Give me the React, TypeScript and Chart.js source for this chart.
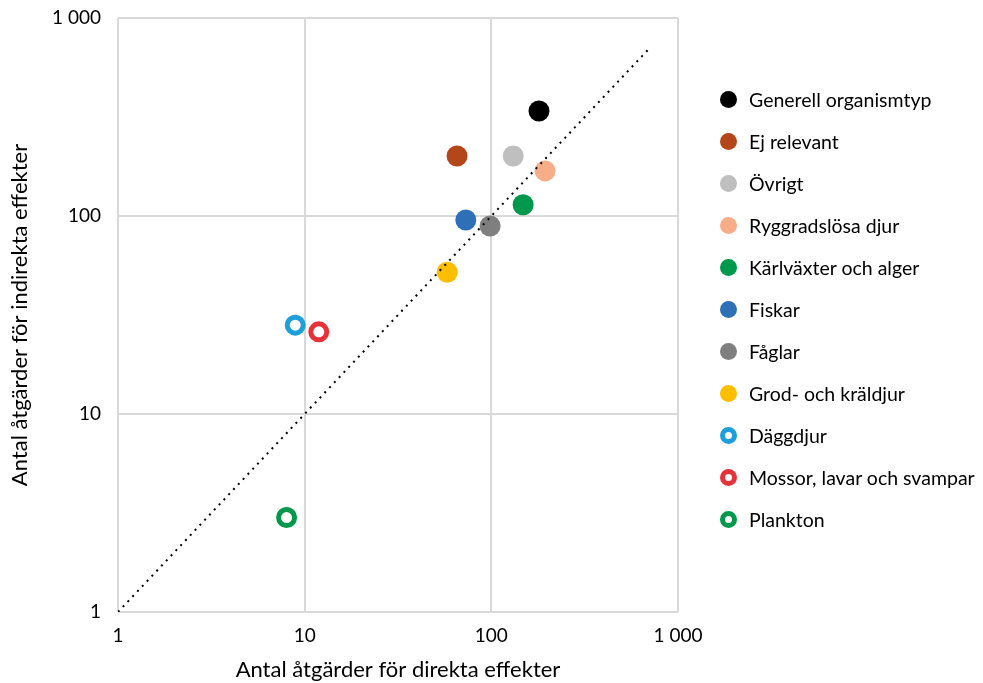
import React, { useEffect, useRef } from "react";
import { Chart, registerables } from "chart.js";

Chart.register(...registerables);

const seriesNames = [
  "Generell organismtyp",
  "Ej relevant",
  "Övrigt",
  "Ryggradslösa djur",
  "Kärlväxter och alger",
  "Fiskar",
  "Fåglar",
  "Grod- och kräldjur",
  "Däggdjur",
  "Mossor, lavar och svampar",
  "Plankton",
];
const directValues = [180, 65.5, 131, 194, 148, 73, 98.5, 58, 8.9, 11.9, 8.0];
const indirectValues = [339, 201, 201, 169, 114, 95.5, 89, 52, 28.1, 26, 3.0];
const seriesColors = [
  "#000000",
  "#B4471A",
  "#BFBFBF",
  "#F7AE88",
  "#00984B",
  "#2D70B6",
  "#7F7F7F",
  "#FDBE00",
  "#1E9EDB",
  "#E7323A",
  "#00984B",
];
const hollow = [false, false, false, false, false, false, false, false, true, true, true];

const tickValues = [1, 10, 100, 1000];
const tickLabels = ["1", "10", "100", "1 000"];
const diagonal = [
  { x: 1, y: 1 },
  { x: 710, y: 710 },
];

const FONT = "Lato, 'Open Sans', sans-serif";

export default function App() {
  const canvasRef = useRef<HTMLCanvasElement | null>(null);

  useEffect(() => {
    document.body.style.margin = "0";
    const canvas = canvasRef.current;
    if (!canvas) return;

    const datasets: any[] = seriesNames.map((name, i) => ({
      type: "scatter",
      label: name,
      data: [{ x: directValues[i], y: indirectValues[i] }],
      backgroundColor: hollow[i] ? "#FFFFFF" : seriesColors[i],
      borderColor: seriesColors[i],
      borderWidth: hollow[i] ? 5 : 0,
      pointRadius: hollow[i] ? 8 : 10.5,
      pointHoverRadius: hollow[i] ? 8 : 10.5,
      order: -i,
    }));
    datasets.push({
      type: "line",
      label: "diagonal",
      data: diagonal,
      borderColor: "#000000",
      borderWidth: 2,
      borderDash: [2, 5],
      pointRadius: 0,
      fill: false,
      order: -100,
    });

    const tickFn = (value: any) => {
      const idx = tickValues.indexOf(Number(value));
      return idx >= 0 ? tickLabels[idx] : "";
    };

    const chart = new Chart(canvas, {
      type: "scatter",
      data: { datasets },
      options: {
        animation: false,
        responsive: false,
        events: [],
        layout: { padding: { left: 0, top: 18, right: 305, bottom: 0 } },
        plugins: {
          legend: { display: false },
          tooltip: { enabled: false },
        },
        scales: {
          x: {
            type: "logarithmic",
            min: 1,
            max: 1000,
            afterBuildTicks: (scale: any) => {
              scale.ticks = tickValues.map((v) => ({ value: v }));
            },
            afterFit: (scale: any) => {
              scale.height = 71;
              scale.paddingLeft = 0;
              scale.paddingRight = 0;
            },
            ticks: {
              callback: tickFn,
              font: { family: FONT, size: 19 },
              color: "#000000",
              padding: 12,
              maxRotation: 0,
              autoSkip: false,
            },
            grid: { color: "#D9D9D9", lineWidth: 2, drawTicks: false },
            border: { display: false },
            title: {
              display: true,
              text: "Antal åtgärder för direkta effekter",
              font: { family: FONT, size: 22 },
              color: "#000000",
              padding: { top: 0, bottom: 0 },
            },
          },
          y: {
            type: "logarithmic",
            min: 1,
            max: 1000,
            afterBuildTicks: (scale: any) => {
              scale.ticks = tickValues.map((v) => ({ value: v }));
            },
            afterFit: (scale: any) => {
              scale.width = 118;
              scale.paddingTop = 0;
              scale.paddingBottom = 0;
            },
            ticks: {
              callback: tickFn,
              font: { family: FONT, size: 19 },
              color: "#000000",
              padding: 17,
              autoSkip: false,
            },
            grid: { color: "#D9D9D9", lineWidth: 2, drawTicks: false },
            border: { display: false },
            title: {
              display: true,
              text: "Antal åtgärder för indirekta effekter",
              font: { family: FONT, size: 22 },
              color: "#000000",
              padding: { top: 7, bottom: 0 },
            },
          },
        },
      } as any,
    });

    return () => {
      chart.destroy();
    };
  }, []);

  return (
    <div style={{ position: "relative", width: 983, height: 683 }}>
      <canvas ref={canvasRef} width={983} height={683} />
      <div style={{ position: "absolute", left: 720, top: 78, fontFamily: FONT }}>
        {seriesNames.map((name, i) => (
          <div
            key={name}
            style={{ display: "flex", alignItems: "center", height: 42.1 }}
          >
            <div
              style={{
                boxSizing: "border-box",
                width: 17,
                height: 17,
                borderRadius: "50%",
                background: hollow[i] ? "#FFFFFF" : seriesColors[i],
                border: hollow[i] ? `5px solid ${seriesColors[i]}` : "none",
                marginRight: 12,
                flexShrink: 0,
              }}
            />
            <span style={{ fontSize: 19.5, color: "#000000", whiteSpace: "nowrap" }}>{name}</span>
          </div>
        ))}
      </div>
    </div>
  );
}
